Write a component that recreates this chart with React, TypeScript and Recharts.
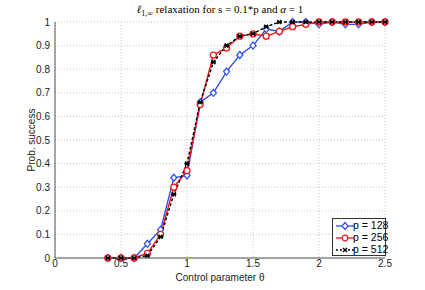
import { LineChart, Line, XAxis, YAxis, CartesianGrid, Label } from "recharts";

const theta = [0.4, 0.5, 0.6, 0.7, 0.8, 0.9, 1.0, 1.1, 1.2, 1.3, 1.4, 1.5, 1.6, 1.7, 1.8, 1.9, 2.0, 2.1, 2.2, 2.3, 2.4, 2.5];
const p128 = [0, 0, 0, 0.06, 0.12, 0.34, 0.35, 0.66, 0.7, 0.79, 0.86, 0.9, 0.97, 0.96, 1, 1, 0.99, 1, 0.99, 0.99, 1, 1];
const p256 = [0, 0, 0, 0.02, 0.1, 0.3, 0.37, 0.65, 0.86, 0.89, 0.94, 0.95, 0.94, 0.96, 0.98, 0.99, 1, 1, 1, 1, 1, 1];
const p512 = [0, 0, 0, 0.01, 0.09, 0.27, 0.4, 0.66, 0.83, 0.9, 0.94, 0.95, 0.98, 1, 1, 1, 1, 1, 1, 1, 1, 1];
const xTicks = [0, 0.5, 1, 1.5, 2, 2.5];
const yTicks = [0, 0.1, 0.2, 0.3, 0.4, 0.5, 0.6, 0.7, 0.8, 0.9, 1];
const seriesNames = ["p = 128", "p = 256", "p = 512"];

const data = theta.map((t, i) => ({ t, a: p128[i], b: p256[i], c: p512[i] }));

const BLUE = "#3050f0";
const RED = "#f01818";
const BLACK = "#000000";
const SANS = "Liberation Sans, Arial, sans-serif";

function Diamond(props: any) {
  const { cx, cy } = props;
  if (cx == null || cy == null) return null;
  return <path d={`M${cx},${cy - 3.5}L${cx + 3},${cy}L${cx},${cy + 3.5}L${cx - 3},${cy}Z`} fill="white" stroke={BLUE} strokeWidth={1.3} />;
}

function Circle(props: any) {
  const { cx, cy } = props;
  if (cx == null || cy == null) return null;
  return <circle cx={cx} cy={cy} r={3} fill="white" stroke={RED} strokeWidth={1.3} />;
}

function Cross(props: any) {
  const { cx, cy } = props;
  if (cx == null || cy == null) return null;
  return (
    <path
      d={`M${cx - 2},${cy - 2}L${cx + 2},${cy + 2}M${cx - 2},${cy + 2}L${cx + 2},${cy - 2}M${cx - 2.5},${cy}L${cx + 2.5},${cy}`}
      stroke={BLACK}
      strokeWidth={1.5}
    />
  );
}

function LegendBox() {
  const rows = [
    { name: seriesNames[0], color: BLUE, dash: undefined, mark: <path d="M11,3.5L14,7L11,10.5L8,7Z" fill="white" stroke={BLUE} strokeWidth={1.2} /> },
    { name: seriesNames[1], color: RED, dash: undefined, mark: <circle cx={11} cy={7} r={2.8} fill="white" stroke={RED} strokeWidth={1.2} /> },
    { name: seriesNames[2], color: BLACK, dash: "2 2", mark: <path d="M9,5L13,9M9,9L13,5" stroke={BLACK} strokeWidth={1.4} /> },
  ];
  return (
    <div
      style={{
        position: "absolute",
        left: 332,
        top: 218,
        width: 50,
        border: "1px solid #333",
        background: "white",
        padding: "0px 1px",
      }}
    >
      {rows.map((r) => (
        <div key={r.name} style={{ display: "flex", alignItems: "center", height: 12, fontFamily: SANS, fontSize: 10.5 }}>
          <svg width={20} height={12} style={{ flex: "none" }}>
            <line x1={2} y1={7} x2={20} y2={7} stroke={r.color} strokeWidth={1.3} strokeDasharray={r.dash} />
            {r.mark}
          </svg>
          <span style={{ whiteSpace: "nowrap", marginLeft: -1 }}>{r.name}</span>
        </div>
      ))}
    </div>
  );
}

export default function App() {
  return (
    <div style={{ position: "absolute", left: 0, top: 0, width: 425, height: 290, background: "white" }}>
      <div
        style={{
          position: "absolute",
          left: 55,
          width: 330,
          top: 3,
          textAlign: "center",
          fontFamily: "Liberation Serif, serif",
          fontSize: 11,
        }}
      >
        <i>ℓ</i>
        <sub style={{ fontSize: 8 }}>1,∞</sub> relaxation for s = 0.1*p and <i>α</i> = 1
      </div>
      <LineChart width={425} height={290} data={data} margin={{ top: 22, right: 40, left: 15, bottom: 2 }}>
        <CartesianGrid stroke="#c8c8c8" strokeDasharray="1 2" horizontalValues={yTicks} verticalValues={xTicks} />
        <XAxis
          dataKey="t"
          type="number"
          domain={[0, 2.5]}
          ticks={xTicks}
          height={30}
          stroke="#555"
          tickLine={false}
          tickSize={2}
          tickMargin={0}
          tick={{ fill: "#222", fontSize: 10, fontFamily: SANS }}
          tickFormatter={(v: number) => String(v)}
          interval={0}
        >
          <Label value="Control parameter θ" position="insideBottom" offset={7} style={{ fill: "#222", fontSize: 10, fontFamily: SANS }} />
        </XAxis>
        <XAxis xAxisId="top" orientation="top" dataKey="t" type="number" domain={[0, 2.5]} height={0} tick={false} tickLine={false} stroke="#555" />
        <YAxis
          type="number"
          domain={[0, 1]}
          ticks={yTicks}
          width={40}
          stroke="#555"
          tickLine={false}
          tickSize={2}
          tickMargin={3}
          tick={{ fill: "#222", fontSize: 10, fontFamily: SANS }}
          tickFormatter={(v: number) => String(v)}
          interval={0}
        >
          <Label value="Prob. success" angle={-90} position="insideLeft" offset={16} style={{ textAnchor: "middle", fill: "#222", fontSize: 10, fontFamily: SANS }} />
        </YAxis>
        <YAxis yAxisId="right" orientation="right" domain={[0, 1]} width={0} tick={false} tickLine={false} stroke="#555" />
        <Line name={seriesNames[0]} dataKey="a" stroke={BLUE} strokeWidth={1.4} dot={<Diamond />} isAnimationActive={false} />
        <Line name={seriesNames[1]} dataKey="b" stroke={RED} strokeWidth={1.4} dot={<Circle />} isAnimationActive={false} />
        <Line name={seriesNames[2]} dataKey="c" stroke={BLACK} strokeWidth={1.4} strokeDasharray="3 2" dot={<Cross />} isAnimationActive={false} />
      </LineChart>
      <LegendBox />
    </div>
  );
}
